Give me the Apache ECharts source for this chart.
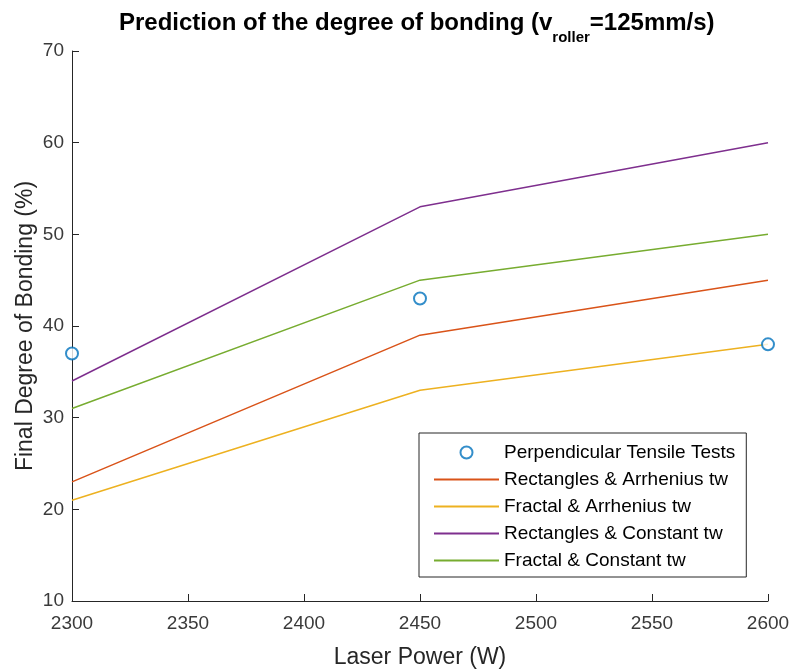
<!DOCTYPE html>
<html>
<head>
<meta charset="utf-8">
<script src="https://cdn.jsdelivr.net/npm/echarts@6/dist/echarts.min.js"></script>
<style>
  html, body { margin: 0; padding: 0; background: #fff; }
  #chart { width: 791px; height: 670px; }
</style>
</head>
<body>
<div id="chart"></div>
<script>
// Laser power (W)
const laserPower = [2300, 2450, 2600];

// Final degree of bonding (%)
const tensileTests = [37, 43, 38];
const rectArrhenius = [23, 39, 45];
const fractalArrhenius = [21, 33, 38];
const rectConstant = [34, 53, 60];
const fractalConstant = [31, 45, 50];

const xTicks = { min: 2300, max: 2600, interval: 50 };
const yTicks = { min: 10, max: 70, interval: 10 };

const font = 'Liberation Sans, Arial, Helvetica, sans-serif';
const axisColor = '#262626';

const pairs = vals => laserPower.map((x, i) => [x, vals[i]]);

const lineSeries = (name, vals, color) => ({
  name: name,
  type: 'line',
  data: pairs(vals),
  symbol: 'none',
  color: color,
  lineStyle: { color: color, width: 1.5 },
  animation: false
});

// legend entries for lines: hide the marker dot, keep the line
const lineItem = name => ({ name: name, itemStyle: { opacity: 0 } });

const chart = echarts.init(document.getElementById('chart'));

const option = {
  backgroundColor: '#fff',
  title: {
    text: '{a|Prediction of the degree of bonding (v}{s|roller}{a|=125mm/s)}',
    left: 114,
    top: -3,
    textStyle: {
      rich: {
        a: { fontFamily: font, fontSize: 24, fontWeight: 'bold', color: '#000' },
        s: { fontFamily: font, fontSize: 15, fontWeight: 'bold', color: '#000', padding: [28, 0, 0, 0] }
      }
    }
  },
  grid: { left: 72, right: 23, top: 51, bottom: 69, outerBoundsMode: 'none' },
  legend: {
    orient: 'vertical',
    left: 419,
    top: 433,
    padding: [10, 11, 7, 14],
    itemWidth: 65,
    itemHeight: 12,
    itemGap: 8,
    borderColor: axisColor,
    borderWidth: 1,
    backgroundColor: '#fff',
    textStyle: { fontFamily: font, fontSize: 19, color: '#000' },
    data: [
      'Perpendicular Tensile Tests',
      lineItem('Rectangles & Arrhenius tw'),
      lineItem('Fractal & Arrhenius tw'),
      lineItem('Rectangles & Constant tw'),
      lineItem('Fractal & Constant tw')
    ]
  },
  xAxis: {
    type: 'value',
    min: xTicks.min,
    max: xTicks.max,
    interval: xTicks.interval,
    name: 'Laser Power (W)',
    nameLocation: 'middle',
    nameGap: 45,
    nameMoveOverlap: false,
    nameTextStyle: { fontFamily: font, fontSize: 23, color: axisColor },
    axisLine: { show: true, lineStyle: { color: axisColor, width: 1 } },
    axisTick: { show: true, inside: true, length: 7, lineStyle: { color: axisColor } },
    axisLabel: { fontFamily: font, fontSize: 19, color: '#3a3a3a', margin: 13, formatter: v => String(v) },
    splitLine: { show: false }
  },
  yAxis: {
    type: 'value',
    min: yTicks.min,
    max: yTicks.max,
    interval: yTicks.interval,
    name: 'Final Degree of Bonding (%)',
    nameLocation: 'middle',
    nameGap: 35,
    nameMoveOverlap: false,
    nameTextStyle: { fontFamily: font, fontSize: 23, color: axisColor },
    axisLine: { show: true, lineStyle: { color: axisColor, width: 1 } },
    axisTick: { show: true, inside: true, length: 7, lineStyle: { color: axisColor } },
    axisLabel: { fontFamily: font, fontSize: 19, color: '#3a3a3a', margin: 8 },
    splitLine: { show: false }
  },
  series: [
    {
      name: 'Perpendicular Tensile Tests',
      type: 'scatter',
      data: pairs(tensileTests),
      symbol: 'emptyCircle',
      symbolSize: 12,
      color: '#0072BD',
      itemStyle: { color: '#0072BD', borderWidth: 1.5 },
      z: 5,
      animation: false
    },
    lineSeries('Rectangles & Arrhenius tw', rectArrhenius, '#D95319'),
    lineSeries('Fractal & Arrhenius tw', fractalArrhenius, '#EDB120'),
    lineSeries('Rectangles & Constant tw', rectConstant, '#7E2F8E'),
    lineSeries('Fractal & Constant tw', fractalConstant, '#77AC30')
  ]
};

chart.setOption(option);
</script>
</body>
</html>
